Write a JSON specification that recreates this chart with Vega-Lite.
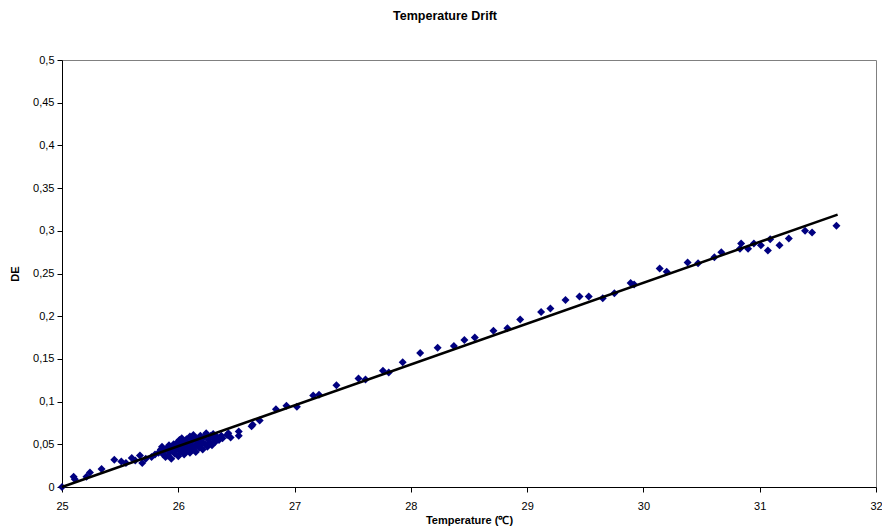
{
  "$schema": "https://vega.github.io/schema/vega-lite/v6.json",
  "autosize": {"type": "none"},
  "padding": {"left": 62, "top": 60, "right": 6, "bottom": 44},
  "width": 814,
  "height": 427,
  "background": "white",
  "title": {
    "text": "Temperature Drift",
    "font": "Liberation Sans",
    "fontSize": 12.5,
    "fontWeight": "bold",
    "color": "black",
    "anchor": "middle",
    "frame": "group",
    "dx": -24,
    "offset": 32
  },
  "datasets": {
    "points": [
      {"temp": 25.0, "de": 0.0},
      {"temp": 25.1, "de": 0.012},
      {"temp": 25.11, "de": 0.009},
      {"temp": 25.21, "de": 0.012},
      {"temp": 25.24, "de": 0.017},
      {"temp": 25.34, "de": 0.021},
      {"temp": 25.45, "de": 0.032},
      {"temp": 25.51, "de": 0.03},
      {"temp": 25.55, "de": 0.028},
      {"temp": 25.6, "de": 0.034},
      {"temp": 25.63, "de": 0.031},
      {"temp": 25.67, "de": 0.037},
      {"temp": 25.69, "de": 0.028},
      {"temp": 25.72, "de": 0.033},
      {"temp": 25.77, "de": 0.035},
      {"temp": 25.8, "de": 0.038},
      {"temp": 25.83, "de": 0.04},
      {"temp": 25.85, "de": 0.044},
      {"temp": 25.86, "de": 0.047},
      {"temp": 25.87, "de": 0.038},
      {"temp": 25.88, "de": 0.042},
      {"temp": 25.89, "de": 0.035},
      {"temp": 25.9, "de": 0.045},
      {"temp": 25.91, "de": 0.037},
      {"temp": 25.92, "de": 0.049},
      {"temp": 25.93, "de": 0.041},
      {"temp": 25.94, "de": 0.033},
      {"temp": 25.95, "de": 0.046},
      {"temp": 25.96, "de": 0.05},
      {"temp": 25.97, "de": 0.039},
      {"temp": 25.98, "de": 0.043},
      {"temp": 25.99, "de": 0.052},
      {"temp": 26.0, "de": 0.036},
      {"temp": 26.0, "de": 0.047},
      {"temp": 26.01, "de": 0.055},
      {"temp": 26.02, "de": 0.041},
      {"temp": 26.03, "de": 0.05},
      {"temp": 26.03, "de": 0.057},
      {"temp": 26.04, "de": 0.044},
      {"temp": 26.05, "de": 0.038},
      {"temp": 26.05, "de": 0.053},
      {"temp": 26.06, "de": 0.048},
      {"temp": 26.07, "de": 0.042},
      {"temp": 26.07, "de": 0.056},
      {"temp": 26.08, "de": 0.051},
      {"temp": 26.09, "de": 0.045},
      {"temp": 26.1, "de": 0.059},
      {"temp": 26.1, "de": 0.04},
      {"temp": 26.11, "de": 0.049},
      {"temp": 26.12, "de": 0.054},
      {"temp": 26.13, "de": 0.044},
      {"temp": 26.13, "de": 0.061},
      {"temp": 26.14, "de": 0.047},
      {"temp": 26.15, "de": 0.057},
      {"temp": 26.15, "de": 0.041},
      {"temp": 26.16, "de": 0.051},
      {"temp": 26.17, "de": 0.055},
      {"temp": 26.18, "de": 0.046},
      {"temp": 26.19, "de": 0.06},
      {"temp": 26.19, "de": 0.049},
      {"temp": 26.2, "de": 0.053},
      {"temp": 26.21, "de": 0.044},
      {"temp": 26.22, "de": 0.058},
      {"temp": 26.23, "de": 0.05},
      {"temp": 26.24, "de": 0.063},
      {"temp": 26.25, "de": 0.047},
      {"temp": 26.26, "de": 0.055},
      {"temp": 26.27, "de": 0.052},
      {"temp": 26.28, "de": 0.06},
      {"temp": 26.29, "de": 0.049},
      {"temp": 26.3, "de": 0.062},
      {"temp": 26.31, "de": 0.056},
      {"temp": 26.32, "de": 0.053},
      {"temp": 26.33, "de": 0.059},
      {"temp": 26.35, "de": 0.055},
      {"temp": 26.37, "de": 0.06},
      {"temp": 26.38, "de": 0.057},
      {"temp": 26.42, "de": 0.061},
      {"temp": 26.43, "de": 0.063},
      {"temp": 26.45, "de": 0.058},
      {"temp": 26.52, "de": 0.065},
      {"temp": 26.52, "de": 0.06},
      {"temp": 26.63, "de": 0.071},
      {"temp": 26.64, "de": 0.073},
      {"temp": 26.7, "de": 0.078},
      {"temp": 26.84, "de": 0.091},
      {"temp": 26.93, "de": 0.095},
      {"temp": 27.02, "de": 0.094},
      {"temp": 27.16, "de": 0.107},
      {"temp": 27.21, "de": 0.108},
      {"temp": 27.36, "de": 0.119},
      {"temp": 27.55, "de": 0.127},
      {"temp": 27.61, "de": 0.126},
      {"temp": 27.76, "de": 0.136},
      {"temp": 27.81, "de": 0.134},
      {"temp": 27.93, "de": 0.146},
      {"temp": 28.08, "de": 0.157},
      {"temp": 28.23, "de": 0.163},
      {"temp": 28.37, "de": 0.165},
      {"temp": 28.46, "de": 0.172},
      {"temp": 28.55, "de": 0.175},
      {"temp": 28.71, "de": 0.183},
      {"temp": 28.83, "de": 0.186},
      {"temp": 28.94, "de": 0.196},
      {"temp": 29.12, "de": 0.205},
      {"temp": 29.2, "de": 0.209},
      {"temp": 29.33, "de": 0.219},
      {"temp": 29.45, "de": 0.223},
      {"temp": 29.53, "de": 0.223},
      {"temp": 29.65, "de": 0.221},
      {"temp": 29.75, "de": 0.227},
      {"temp": 29.89, "de": 0.239},
      {"temp": 29.92, "de": 0.237},
      {"temp": 30.14, "de": 0.256},
      {"temp": 30.2, "de": 0.252},
      {"temp": 30.38, "de": 0.263},
      {"temp": 30.47, "de": 0.262},
      {"temp": 30.61, "de": 0.269},
      {"temp": 30.67, "de": 0.275},
      {"temp": 30.83, "de": 0.279},
      {"temp": 30.84, "de": 0.285},
      {"temp": 30.9, "de": 0.279},
      {"temp": 30.95, "de": 0.285},
      {"temp": 31.01, "de": 0.283},
      {"temp": 31.07, "de": 0.277},
      {"temp": 31.09, "de": 0.29},
      {"temp": 31.17, "de": 0.283},
      {"temp": 31.25, "de": 0.291},
      {"temp": 31.39, "de": 0.3},
      {"temp": 31.45, "de": 0.298},
      {"temp": 31.66, "de": 0.306}
    ],
    "trend": [
      {"temp": 25.0, "de": 0.0},
      {"temp": 31.67, "de": 0.319}
    ]
  },
  "config": {
    "font": "Liberation Sans",
    "view": {"stroke": "#808080", "strokeWidth": 1},
    "axis": {
      "grid": false,
      "domainColor": "black",
      "domainWidth": 1,
      "tickColor": "black",
      "tickSize": 5,
      "labelFont": "Liberation Sans",
      "labelFontSize": 11,
      "labelColor": "black",
      "labelFlush": false,
      "titleFont": "Liberation Sans",
      "titleFontSize": 11,
      "titleFontWeight": "bold",
      "titleColor": "black"
    }
  },
  "layer": [
    {
      "data": {"name": "points"},
      "mark": {"type": "point", "shape": "diamond", "filled": true, "color": "#000080", "size": 64, "opacity": 1},
      "encoding": {
        "x": {
          "field": "temp",
          "type": "quantitative",
          "scale": {"domain": [25, 32], "nice": false, "zero": false},
          "axis": {
            "title": "Temperature (℃)",
            "values": [25, 26, 27, 28, 29, 30, 31, 32],
            "format": "d",
            "labelPadding": 8,
            "titlePadding": 3
          }
        },
        "y": {
          "field": "de",
          "type": "quantitative",
          "scale": {"domain": [0, 0.5], "nice": false},
          "axis": {
            "title": "DE",
            "values": [0, 0.05, 0.1, 0.15, 0.2, 0.25, 0.3, 0.35, 0.4, 0.45, 0.5],
            "labelExpr": "replace(format(datum.value, '.2~f'), '.', ',')",
            "labelPadding": 3,
            "titlePadding": 12
          }
        }
      }
    },
    {
      "data": {"name": "trend"},
      "mark": {"type": "line", "color": "black", "strokeWidth": 2.5},
      "encoding": {
        "x": {"field": "temp", "type": "quantitative"},
        "y": {"field": "de", "type": "quantitative"}
      }
    }
  ]
}
